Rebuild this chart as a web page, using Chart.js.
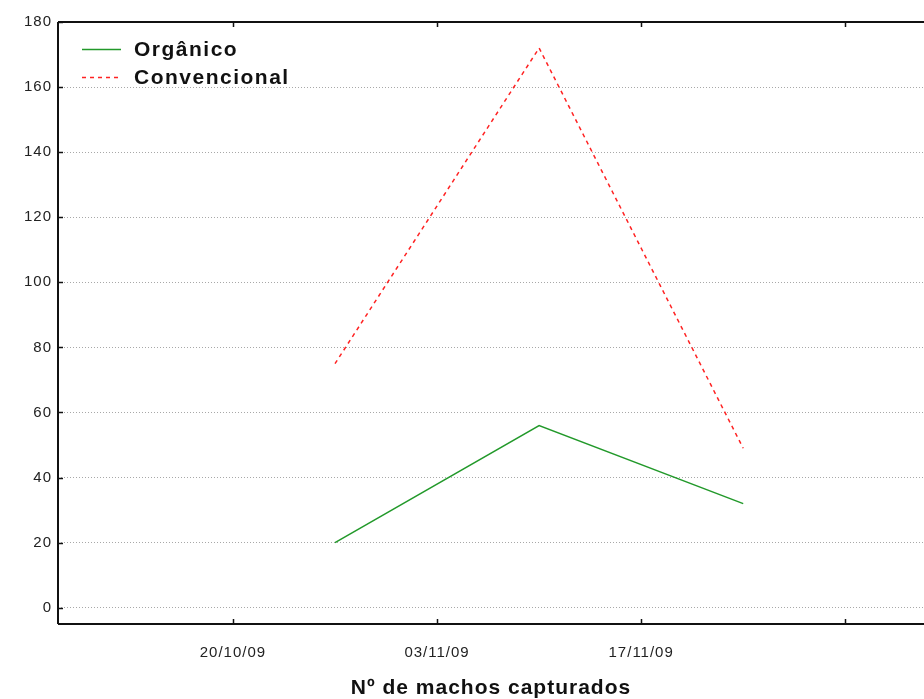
<!DOCTYPE html>
<html lang="pt">
<head>
    <meta charset="UTF-8">
    <title>Nº de machos capturados</title>
    <script src="https://cdn.jsdelivr.net/npm/chart.js"></script>
    <style>
        html, body { margin: 0; padding: 0; background: white; }
        #wrap { width: 924px; height: 699px; position: relative; }
    </style>
</head>
<body>
<div id="wrap"><canvas id="grafico"></canvas></div>
<script>
    // datas de coleta e valores
    var datasColeta = ['27/10/09', '10/11/09', '24/11/09'];
    var organico = [20, 56, 32];
    var convencional = [75, 172, 49];

    // marcas do eixo x (a ultima sem rotulo)
    var marcasX = ['20/10/09', '03/11/09', '17/11/09', '01/12/09'];
    var rotulosX = ['20/10/09', '03/11/09', '17/11/09'];
    var marcasY = [0, 20, 40, 60, 80, 100, 120, 140, 160, 180];

    function dia(txt) {
        var p = txt.split('/');
        return Date.UTC(2000 + parseInt(p[2]), parseInt(p[1]) - 1, parseInt(p[0])) / 86400000;
    }
    var nomes = {};
    marcasX.forEach(function(d) { nomes[dia(d)] = d; });

    function pontos(valores) {
        return datasColeta.map(function(d, i) {
            return { x: dia(d), y: valores[i] };
        });
    }

    var fonte = '"Liberation Sans", Arial, sans-serif';

    // bordas, marcas internas e legenda dentro da area do grafico
    var molduraPlugin = {
        id: 'moldura',
        beforeDraw: function(chart) {
            chart.ctx.letterSpacing = '1px';
        },
        afterDraw: function(chart) {
            var ctx = chart.ctx, a = chart.chartArea;
            var sx = chart.scales.x, sy = chart.scales.y;
            ctx.save();
            ctx.strokeStyle = '#111';
            ctx.lineWidth = 2;
            ctx.beginPath();
            ctx.moveTo(a.left, a.top); ctx.lineTo(a.right, a.top);
            ctx.moveTo(a.left, a.top); ctx.lineTo(a.left, a.bottom);
            ctx.moveTo(a.left, a.bottom); ctx.lineTo(a.right, a.bottom);
            ctx.stroke();
            ctx.lineWidth = 1.5;
            ctx.beginPath();
            marcasX.forEach(function(d) {
                var px = Math.round(sx.getPixelForValue(dia(d))) + 0.5;
                ctx.moveTo(px, a.bottom); ctx.lineTo(px, a.bottom - 5);
                ctx.moveTo(px, a.top); ctx.lineTo(px, a.top + 5);
            });
            marcasY.forEach(function(v) {
                var py = Math.round(sy.getPixelForValue(v)) + 0.5;
                ctx.moveTo(a.left, py); ctx.lineTo(a.left + 5, py);
            });
            ctx.stroke();

            // legenda
            var itens = [
                { txt: 'Orgânico', cor: '#22992a', tracejado: [] },
                { txt: 'Convencional', cor: '#ff2222', tracejado: [4, 4] }
            ];
            ctx.font = 'bold 21px ' + fonte;
            ctx.letterSpacing = '1.5px';
            ctx.textBaseline = 'middle';
            itens.forEach(function(it, i) {
                var y = 49 + i * 28;
                ctx.strokeStyle = it.cor;
                ctx.lineWidth = 1.5;
                ctx.setLineDash(it.tracejado);
                ctx.beginPath();
                ctx.moveTo(82, y + 0.5); ctx.lineTo(121, y + 0.5);
                ctx.stroke();
                ctx.setLineDash([]);
                ctx.fillStyle = '#111';
                ctx.fillText(it.txt, 134, y + 1);
            });
            ctx.restore();
            ctx.letterSpacing = '0px';
        }
    };

    var ctx = document.getElementById('grafico').getContext('2d');
    var grafico = new Chart(ctx, {
        type: 'line',
        data: {
            datasets: [{
                label: 'Orgânico',
                data: pontos(organico),
                borderColor: '#22992a',
                borderWidth: 1.5,
                pointRadius: 0,
                fill: false,
                tension: 0
            }, {
                label: 'Convencional',
                data: pontos(convencional),
                borderColor: '#ff2222',
                borderWidth: 1.5,
                borderDash: [4, 4],
                pointRadius: 0,
                fill: false,
                tension: 0
            }]
        },
        options: {
            responsive: true,
            maintainAspectRatio: false,
            animation: false,
            layout: { padding: { top: 22, right: 0, left: 0, bottom: 0 } },
            plugins: {
                legend: { display: false },
                tooltip: { enabled: false }
            },
            scales: {
                x: {
                    type: 'linear',
                    min: dia('08/10/09'),
                    max: dia('06/12/09') + 0.4,
                    afterBuildTicks: function(scale) {
                        scale.ticks = marcasX.map(function(d) { return { value: dia(d) }; });
                    },
                    afterFit: function(scale) { scale.height = 75; },
                    border: { display: false },
                    grid: { display: false },
                    ticks: {
                        padding: 12,
                        maxRotation: 0,
                        autoSkip: false,
                        color: '#222',
                        font: { family: fonte, size: 15 },
                        callback: function(v) {
                            var n = nomes[v];
                            return rotulosX.indexOf(n) >= 0 ? n : '';
                        }
                    },
                    title: {
                        display: true,
                        text: 'Nº de machos capturados',
                        color: '#111',
                        padding: { top: 4, bottom: -2 },
                        font: { family: fonte, size: 21, weight: 'bold' }
                    }
                },
                y: {
                    min: -5,
                    max: 180,
                    afterBuildTicks: function(scale) {
                        scale.ticks = marcasY.map(function(v) { return { value: v }; });
                    },
                    afterFit: function(scale) { scale.width = 58; },
                    border: { display: false, dash: [1, 2] },
                    grid: {
                        drawTicks: false,
                        color: function(c) { return c.tick.value >= 180 ? 'rgba(0,0,0,0)' : '#a8a8a8'; },
                        lineWidth: 1
                    },
                    ticks: {
                        padding: 6,
                        color: '#222',
                        font: { family: fonte, size: 15 }
                    }
                }
            }
        },
        plugins: [molduraPlugin]
    });
</script>
</body>
</html>
